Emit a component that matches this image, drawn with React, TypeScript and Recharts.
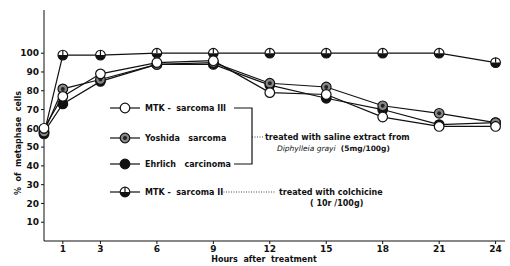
import React from 'react';
import { LineChart, Line, XAxis, YAxis } from 'recharts';

const hours = [0, 1, 3, 6, 9, 12, 15, 18, 21, 24];
const mtk3 = [60, 77, 89, 95, 96, 79, 78, 66, 61, 61];
const yoshida = [58, 81, 86, 94, 95, 84, 82, 72, 68, 63];
const ehrlich = [58, 73, 85, 94, 94, 83, 76, 70, 62, 63];
const colchicine = [57, 99, 99, 100, 100, 100, 100, 100, 100, 95];
const xTicks = [1, 3, 6, 9, 12, 15, 18, 21, 24];
const yTicks = [10, 20, 30, 40, 50, 60, 70, 80, 90, 100];

const data = hours.map((h, i) => ({
  h,
  mtk3: mtk3[i],
  yoshida: yoshida[i],
  ehrlich: ehrlich[i],
  colchicine: colchicine[i],
}));

const FONT = '"DejaVu Sans", sans-serif';
const R = 4.8;

const OpenDot = (p: any) => (
  <circle key={p.index} cx={p.cx} cy={p.cy} r={R} fill="#fff" stroke="#111" strokeWidth={1.2} />
);
const FilledDot = (p: any) => (
  <circle key={p.index} cx={p.cx} cy={p.cy} r={R} fill="#111" stroke="#111" strokeWidth={1.2} />
);
const YoshidaDot = (p: any) => (
  <g key={p.index}>
    <circle cx={p.cx} cy={p.cy} r={R} fill="#888" stroke="#111" strokeWidth={1.2} />
    <circle cx={p.cx} cy={p.cy} r={2} fill="#222" />
  </g>
);
const HalfDot = (p: any) => (
  <g key={p.index}>
    <circle cx={p.cx} cy={p.cy} r={R} fill="#fff" stroke="#111" strokeWidth={1.2} />
    <path
      d={`M${p.cx - R},${p.cy} A${R},${R} 0 0 0 ${p.cx + R},${p.cy} Z`}
      fill="#111"
    />
    <line x1={p.cx} y1={p.cy - R} x2={p.cx} y2={p.cy} stroke="#111" strokeWidth={1.2} />
  </g>
);

const txt = { fontFamily: FONT, fontWeight: 700, fontSize: 8, fill: '#111' } as const;

function Legend() {
  const rows = [
    { y: 108, label: 'MTK -  sarcoma III', dot: OpenDot },
    { y: 138, label: 'Yoshida   sarcoma', dot: YoshidaDot },
    { y: 164, label: 'Ehrlich   carcinoma', dot: FilledDot },
    { y: 192, label: 'MTK -  sarcoma II', dot: HalfDot },
  ];
  return (
    <svg width={510} height={266} style={{ position: 'absolute', left: 0, top: 0, pointerEvents: 'none' }}>
      {rows.map((r, i) => (
        <g key={i}>
          <line x1={110} y1={r.y} x2={140} y2={r.y} stroke="#111" strokeWidth={1.2} />
          {r.dot({ cx: 125, cy: r.y, index: i })}
          <text x={145} y={r.y + 3} {...txt} xmlSpace="preserve">{r.label}</text>
        </g>
      ))}
      <polyline points="234,108 252,108 252,164 234,164" fill="none" stroke="#111" strokeWidth={1.2} />
      <line x1={252} y1={137} x2={264} y2={137} stroke="#111" strokeWidth={0.8} strokeDasharray="1 1.5" />
      <text x={265} y={140} {...txt}>treated with saline extract from</text>
      <text x={277} y={151} {...txt} fontSize={7.5} xmlSpace="preserve">
        <tspan fontStyle="italic" fontWeight={400}>Diphylleia grayi</tspan>  (5mg/100g)
      </text>
      <line x1={221} y1={192} x2={276} y2={192} stroke="#111" strokeWidth={0.8} strokeDasharray="1 1.5" />
      <text x={279} y={195} {...txt}>treated with colchicine</text>
      <text x={310} y={206} {...txt}>( 10r /100g)</text>
      <text x={264} y={262} {...txt} textAnchor="middle" xmlSpace="preserve">Hours  after  treatment</text>
      <text x={0} y={0} {...txt} textAnchor="middle" transform="translate(21,143) rotate(-90)" xmlSpace="preserve">
        %  of  metaphase  cells
      </text>
    </svg>
  );
}

export default function App() {
  return (
    <div style={{ position: 'absolute', left: 0, top: 0, width: 510, height: 266, background: '#fff' }}>
      <LineChart width={510} height={266} data={data} margin={{ top: 10, right: 5, bottom: 0, left: 0 }}>
        <XAxis
          dataKey="h"
          type="number"
          domain={[0, 24.5]}
          ticks={xTicks}
          height={25}
          stroke="#111"
          tickSize={3}
          tick={{ ...txt, fontSize: 9 }}
          tickLine={{ stroke: '#111' }}
        />
        <YAxis
          type="number"
          domain={[0, 123]}
          ticks={yTicks}
          width={44}
          stroke="#111"
          tickSize={3}
          tick={{ ...txt, fontSize: 9 }}
          interval={0}
        />
        <Line dataKey="colchicine" stroke="#111" strokeWidth={1.2} dot={HalfDot} isAnimationActive={false} />
        <Line dataKey="ehrlich" stroke="#111" strokeWidth={1.2} dot={FilledDot} isAnimationActive={false} />
        <Line dataKey="yoshida" stroke="#111" strokeWidth={1.2} dot={YoshidaDot} isAnimationActive={false} />
        <Line dataKey="mtk3" stroke="#111" strokeWidth={1.2} dot={OpenDot} isAnimationActive={false} />
      </LineChart>
      <Legend />
    </div>
  );
}
